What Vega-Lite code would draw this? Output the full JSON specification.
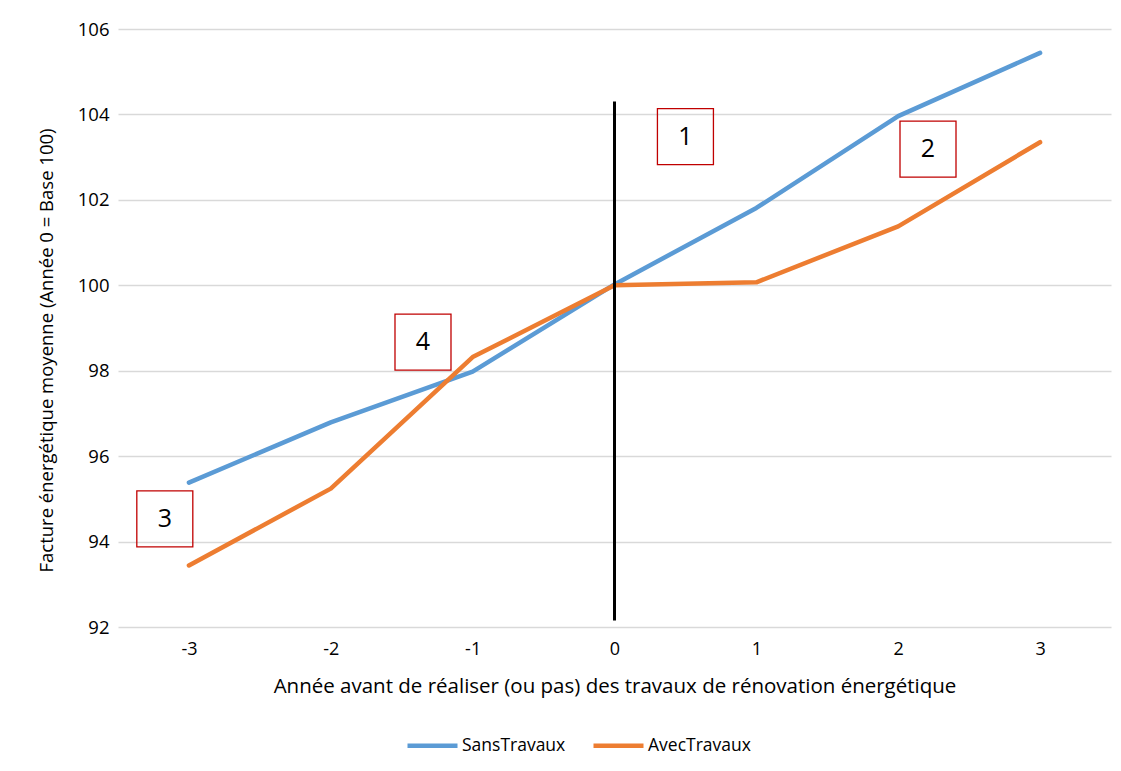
{
  "$schema": "https://vega.github.io/schema/vega-lite/v6.json",
  "width": 993,
  "height": 598,
  "autosize": {"type": "none"},
  "padding": {"left": 118, "top": 29, "right": 10, "bottom": 144},
  "background": "white",
  "config": {
    "font": "Open Sans",
    "view": {"stroke": null},
    "axis": {"labelFont": "Open Sans", "titleFont": "Open Sans", "labelColor": "#000000", "titleColor": "#000000", "titleFontWeight": "normal"}
  },
  "datasets": {
    "series": [
      {"annee": -3, "serie": "SansTravaux", "valeur": 95.38},
      {"annee": -2, "serie": "SansTravaux", "valeur": 96.79},
      {"annee": -1, "serie": "SansTravaux", "valeur": 97.98},
      {"annee": 0, "serie": "SansTravaux", "valeur": 100.02},
      {"annee": 1, "serie": "SansTravaux", "valeur": 101.81},
      {"annee": 2, "serie": "SansTravaux", "valeur": 103.96},
      {"annee": 3, "serie": "SansTravaux", "valeur": 105.44},
      {"annee": -3, "serie": "AvecTravaux", "valeur": 93.44},
      {"annee": -2, "serie": "AvecTravaux", "valeur": 95.24},
      {"annee": -1, "serie": "AvecTravaux", "valeur": 98.32},
      {"annee": 0, "serie": "AvecTravaux", "valeur": 100.0},
      {"annee": 1, "serie": "AvecTravaux", "valeur": 100.07},
      {"annee": 2, "serie": "AvecTravaux", "valeur": 101.38},
      {"annee": 3, "serie": "AvecTravaux", "valeur": 103.35}
    ],
    "repere": [{"annee": 0, "bas": 92.15, "haut": 104.3}],
    "encadres": [
      {"xa": 0.5, "ya": 103.48, "numero": "1"},
      {"xa": 2.21, "ya": 103.19, "numero": "2"},
      {"xa": -3.17, "ya": 94.53, "numero": "3"},
      {"xa": -1.35, "ya": 98.67, "numero": "4"}
    ]
  },
  "layer": [
    {
      "data": {"name": "series"},
      "mark": {"type": "line", "strokeWidth": 4.5, "strokeCap": "round", "strokeJoin": "round"},
      "encoding": {
        "x": {
          "field": "annee", "type": "quantitative",
          "scale": {"domain": [-3.5, 3.5], "nice": false, "zero": false},
          "axis": {"values": [-3, -2, -1, 0, 1, 2, 3], "labelExpr": "'' + datum.value", "grid": false, "domain": false, "ticks": false, "labelFontSize": 18, "labelPadding": 13,
                   "title": "Année avant de réaliser (ou pas) des travaux de rénovation énergétique", "titleFontSize": 20.5, "titlePadding": 18}
        },
        "y": {
          "field": "valeur", "type": "quantitative",
          "scale": {"domain": [92, 106], "nice": false, "zero": false},
          "axis": {"values": [92, 94, 96, 98, 100, 102, 104, 106], "grid": true, "gridColor": "#D9D9D9", "gridWidth": 1.3, "domain": false, "ticks": false,
                   "labelFontSize": 18.5, "labelPadding": 9,
                   "title": "Facture énergétique moyenne  (Année 0 = Base 100)", "titleFontSize": 18.5,
                   "titleX": -62, "titleY": 321, "titleAngle": -90, "titleAlign": "center", "titleBaseline": "bottom"}
        },
        "color": {
          "field": "serie", "type": "nominal",
          "scale": {"domain": ["SansTravaux", "AvecTravaux"], "range": ["#5B9BD5", "#ED7D31"]},
          "legend": {"title": null, "orient": "none", "legendX": 287, "legendY": 689, "direction": "horizontal", "symbolType": "stroke", "symbolSize": 2500, "symbolStrokeWidth": 4.5,
                     "labelFontSize": 17.5, "labelFont": "Open Sans", "labelOffset": 2, "columnPadding": 18, "labelColor": "#000000"}
        }
      }
    },
    {
      "data": {"name": "repere"},
      "mark": {"type": "rule", "color": "#000000", "strokeWidth": 3},
      "encoding": {
        "x": {"field": "annee", "type": "quantitative"},
        "y": {"field": "bas", "type": "quantitative"},
        "y2": {"field": "haut"}
      }
    },
    {
      "data": {"name": "encadres"},
      "mark": {"type": "point", "shape": "square", "size": 3136, "filled": false, "stroke": "#C00000", "strokeWidth": 1.3, "opacity": 1},
      "encoding": {
        "x": {"field": "xa", "type": "quantitative"},
        "y": {"field": "ya", "type": "quantitative"}
      }
    },
    {
      "data": {"name": "encadres"},
      "mark": {"type": "text", "fontSize": 25, "font": "Open Sans", "color": "#000000", "baseline": "middle", "align": "center"},
      "encoding": {
        "x": {"field": "xa", "type": "quantitative"},
        "y": {"field": "ya", "type": "quantitative"},
        "text": {"field": "numero", "type": "nominal"}
      }
    }
  ]
}
